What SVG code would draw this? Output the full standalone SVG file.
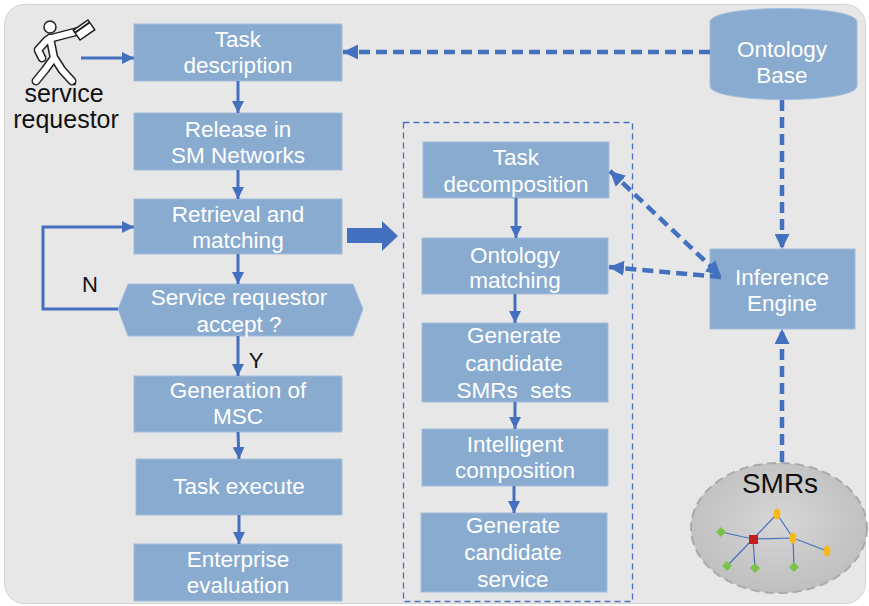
<svg xmlns="http://www.w3.org/2000/svg" width="869" height="606" viewBox="0 0 869 606">
  <defs>
    <style>
      .box { fill: #89abcf; stroke: #a3bedd; stroke-width: 1; }
      .lbl { font-family: "Liberation Sans", Arial, sans-serif; font-size: 22.5px; fill: #ffffff; text-anchor: middle; }
      .dark { font-family: "Liberation Sans", Arial, sans-serif; fill: #111111; text-anchor: middle; }
      .flow { fill: none; stroke: #4470c0; stroke-width: 3; }
      .dash { fill: none; stroke: #4470c0; stroke-width: 4.5; stroke-dasharray: 11 6; }
      .net { stroke: #4a6fc0; stroke-width: 1.2; fill: none; }
    </style>
    <marker id="ah" viewBox="0 0 12 12" refX="12" refY="6" markerWidth="12" markerHeight="12" markerUnits="userSpaceOnUse" orient="auto">
      <path d="M0,0 L12,6 L0,12 Z" fill="#4470c0"/>
    </marker>
    <marker id="dh" viewBox="0 0 14 14" refX="14" refY="7" markerWidth="15" markerHeight="15" markerUnits="userSpaceOnUse" orient="auto-start-reverse">
      <path d="M0,0 L14,7 L0,14 Z" fill="#4470c0"/>
    </marker>
    <radialGradient id="smrFill" cx="0.5" cy="0.45" r="0.6">
      <stop offset="0" stop-color="#d6d6d6"/>
      <stop offset="1" stop-color="#bdbdbd"/>
    </radialGradient>
  </defs>

  <!-- canvas panel -->
  <rect x="0" y="0" width="869" height="606" fill="#ffffff"/>
  <rect x="4.5" y="4.5" width="861" height="599" rx="20" fill="#e7e7e7" stroke="#d4d4d4" stroke-width="1"/>

  <!-- service requestor figure -->
  <g id="requestor">
    <g stroke="#222222" stroke-width="9" stroke-linecap="round" stroke-linejoin="round" fill="none">
      <path d="M50,38 L54,58"/>
      <path d="M47,40 L38,50 L42,58"/>
      <path d="M52,38 L79,31"/>
      <path d="M53,59 L45,70 L36,81"/>
      <path d="M55,59 L62,70 L72,81"/>
    </g>
    <g stroke="#ffffff" stroke-width="6" stroke-linecap="round" stroke-linejoin="round" fill="none">
      <path d="M50,38 L54,58"/>
      <path d="M47,40 L38,50 L42,58"/>
      <path d="M52,38 L79,31"/>
      <path d="M53,59 L45,70 L36,81"/>
      <path d="M55,59 L62,70 L72,81"/>
    </g>
    <circle cx="50" cy="27" r="6" fill="#ffffff" stroke="#222222" stroke-width="1.5"/>
    <g transform="translate(84,30) rotate(-35)">
      <rect x="-9" y="-6" width="18" height="12" fill="#ffffff" stroke="#222222" stroke-width="1.5"/>
      <line x1="-9" y1="-3" x2="9" y2="-3" stroke="#222222" stroke-width="2"/>
    </g>
    <text class="dark" x="64" y="102" font-size="25">service</text>
    <text class="dark" x="66" y="128" font-size="25">requestor</text>
  </g>

  <!-- left process column -->
  <g id="task-description">
    <rect class="box" x="134" y="24" width="208" height="57"/>
    <text class="lbl" x="238" y="47">Task</text>
    <text class="lbl" x="238" y="73">description</text>
  </g>
  <g id="release">
    <rect class="box" x="134" y="113" width="208" height="57"/>
    <text class="lbl" x="238" y="137">Release in</text>
    <text class="lbl" x="238" y="163">SM Networks</text>
  </g>
  <g id="retrieval">
    <rect class="box" x="134" y="199" width="208" height="55"/>
    <text class="lbl" x="238" y="222">Retrieval and</text>
    <text class="lbl" x="238" y="248">matching</text>
  </g>
  <g id="accept">
    <path class="box" d="M128,284 L353,284 L363,309 L353,336 L128,336 L118,309 Z"/>
    <text class="lbl" x="239" y="305">Service requestor</text>
    <text class="lbl" x="239" y="332">accept ?</text>
  </g>
  <g id="msc">
    <rect class="box" x="134" y="376" width="208" height="56"/>
    <text class="lbl" x="238" y="398">Generation of</text>
    <text class="lbl" x="238" y="424">MSC</text>
  </g>
  <g id="execute">
    <rect class="box" x="136" y="459" width="206" height="56"/>
    <text class="lbl" x="239" y="494">Task execute</text>
  </g>
  <g id="evaluation">
    <rect class="box" x="134" y="544" width="208" height="57"/>
    <text class="lbl" x="238" y="567">Enterprise</text>
    <text class="lbl" x="238" y="593">evaluation</text>
  </g>

  <!-- composition stage -->
  <g id="composition-frame">
    <rect x="403.5" y="122.5" width="229" height="479" fill="none" stroke="#4a6fbd" stroke-width="1.3" stroke-dasharray="6 4"/>
  </g>
  <g id="task-decomposition">
    <rect class="box" x="423" y="142" width="186" height="56"/>
    <text class="lbl" x="516" y="165">Task</text>
    <text class="lbl" x="516" y="192">decomposition</text>
  </g>
  <g id="ontology-matching">
    <rect class="box" x="422" y="238" width="186" height="56"/>
    <text class="lbl" x="515" y="263">Ontology</text>
    <text class="lbl" x="515" y="288">matching</text>
  </g>
  <g id="candidate-sets">
    <rect class="box" x="422" y="323" width="186" height="79"/>
    <text class="lbl" x="514" y="343">Generate</text>
    <text class="lbl" x="514" y="371">candidate</text>
    <text class="lbl" x="514" y="398" xml:space="preserve">SMRs  sets</text>
  </g>
  <g id="intelligent-composition">
    <rect class="box" x="422" y="429" width="186" height="57"/>
    <text class="lbl" x="515" y="452">Intelligent</text>
    <text class="lbl" x="515" y="478">composition</text>
  </g>
  <g id="candidate-service">
    <rect class="box" x="421" y="513" width="186" height="79"/>
    <text class="lbl" x="513" y="533">Generate</text>
    <text class="lbl" x="513" y="560">candidate</text>
    <text class="lbl" x="513" y="587">service</text>
  </g>

  <!-- knowledge side -->
  <g id="ontology-base">
    <path class="box" d="M710,22 C710,4 857,4 857,22 L857,86 C857,104 710,104 710,86 Z"/>
    <text class="lbl" x="782" y="57">Ontology</text>
    <text class="lbl" x="782" y="83">Base</text>
  </g>
  <g id="inference-engine">
    <rect class="box" x="710" y="249" width="145" height="80"/>
    <text class="lbl" x="782" y="285">Inference</text>
    <text class="lbl" x="782" y="311">Engine</text>
  </g>
  <g id="smrs">
    <ellipse cx="779" cy="528" rx="88" ry="65" fill="url(#smrFill)" stroke="#a9a9a9" stroke-width="2" stroke-dasharray="9 5"/>
    <text class="dark" x="780" y="493" font-size="28">SMRs</text>
    <g class="net">
      <line x1="721" y1="532" x2="753" y2="539"/>
      <line x1="753" y1="539" x2="777" y2="514"/>
      <line x1="753" y1="539" x2="793" y2="538"/>
      <line x1="777" y1="514" x2="793" y2="538"/>
      <line x1="793" y1="538" x2="827" y2="551"/>
      <line x1="793" y1="538" x2="794" y2="567"/>
      <line x1="753" y1="539" x2="727" y2="566"/>
      <line x1="753" y1="539" x2="755" y2="568"/>
    </g>
    <rect x="749" y="535" width="9" height="9" fill="#c0201c"/>
    <g fill="#f6b81a">
      <ellipse cx="777" cy="514" rx="3.5" ry="5.5"/>
      <ellipse cx="793" cy="538" rx="3.5" ry="5.5"/>
      <ellipse cx="827" cy="551" rx="3.5" ry="5.5"/>
    </g>
    <g fill="#7cc24a">
      <path d="M721,527 L726,532 L721,537 L716,532 Z"/>
      <path d="M727,561 L732,566 L727,571 L722,566 Z"/>
      <path d="M755,563 L760,568 L755,573 L750,568 Z"/>
      <path d="M794,562 L799,567 L794,572 L789,567 Z"/>
    </g>
  </g>

  <!-- connectors -->
  <g id="connectors">
    <line class="flow" x1="81" y1="58" x2="134" y2="58" marker-end="url(#ah)"/>
    <line class="flow" x1="238" y1="81" x2="238" y2="113" marker-end="url(#ah)"/>
    <line class="flow" x1="238" y1="170" x2="238" y2="199" marker-end="url(#ah)"/>
    <line class="flow" x1="238" y1="254" x2="238" y2="284" marker-end="url(#ah)"/>
    <line class="flow" x1="238" y1="336" x2="238" y2="376" marker-end="url(#ah)"/>
    <line class="flow" x1="238" y1="432" x2="239" y2="459" marker-end="url(#ah)"/>
    <line class="flow" x1="239" y1="515" x2="239" y2="544" marker-end="url(#ah)"/>
    <path class="flow" d="M118,309 L43,309 L43,227 L134,227" marker-end="url(#ah)"/>
    <text class="dark" x="90" y="292" font-size="22">N</text>
    <text class="dark" x="256" y="368" font-size="22">Y</text>

    <line class="flow" x1="516" y1="198" x2="516" y2="238" marker-end="url(#ah)"/>
    <line class="flow" x1="515" y1="294" x2="515" y2="323" marker-end="url(#ah)"/>
    <line class="flow" x1="515" y1="402" x2="515" y2="429" marker-end="url(#ah)"/>
    <line class="flow" x1="514" y1="486" x2="514" y2="513" marker-end="url(#ah)"/>

    <!-- hand-off to composition stage -->
    <path d="M347,228 L382,228 L382,221 L398,236 L382,251 L382,243 L347,243 Z" fill="#4470c0"/>

    <!-- knowledge links -->
    <line class="dash" x1="710" y1="52" x2="343" y2="52" marker-end="url(#dh)"/>
    <line class="dash" x1="782" y1="100" x2="782" y2="249" marker-end="url(#dh)"/>
    <line class="dash" x1="782" y1="462" x2="782" y2="329" marker-end="url(#dh)"/>
    <line class="dash" x1="610" y1="171" x2="721" y2="276" marker-start="url(#dh)" marker-end="url(#dh)"/>
    <line class="dash" x1="721" y1="277" x2="609" y2="267" marker-end="url(#dh)"/>
  </g>
</svg>
